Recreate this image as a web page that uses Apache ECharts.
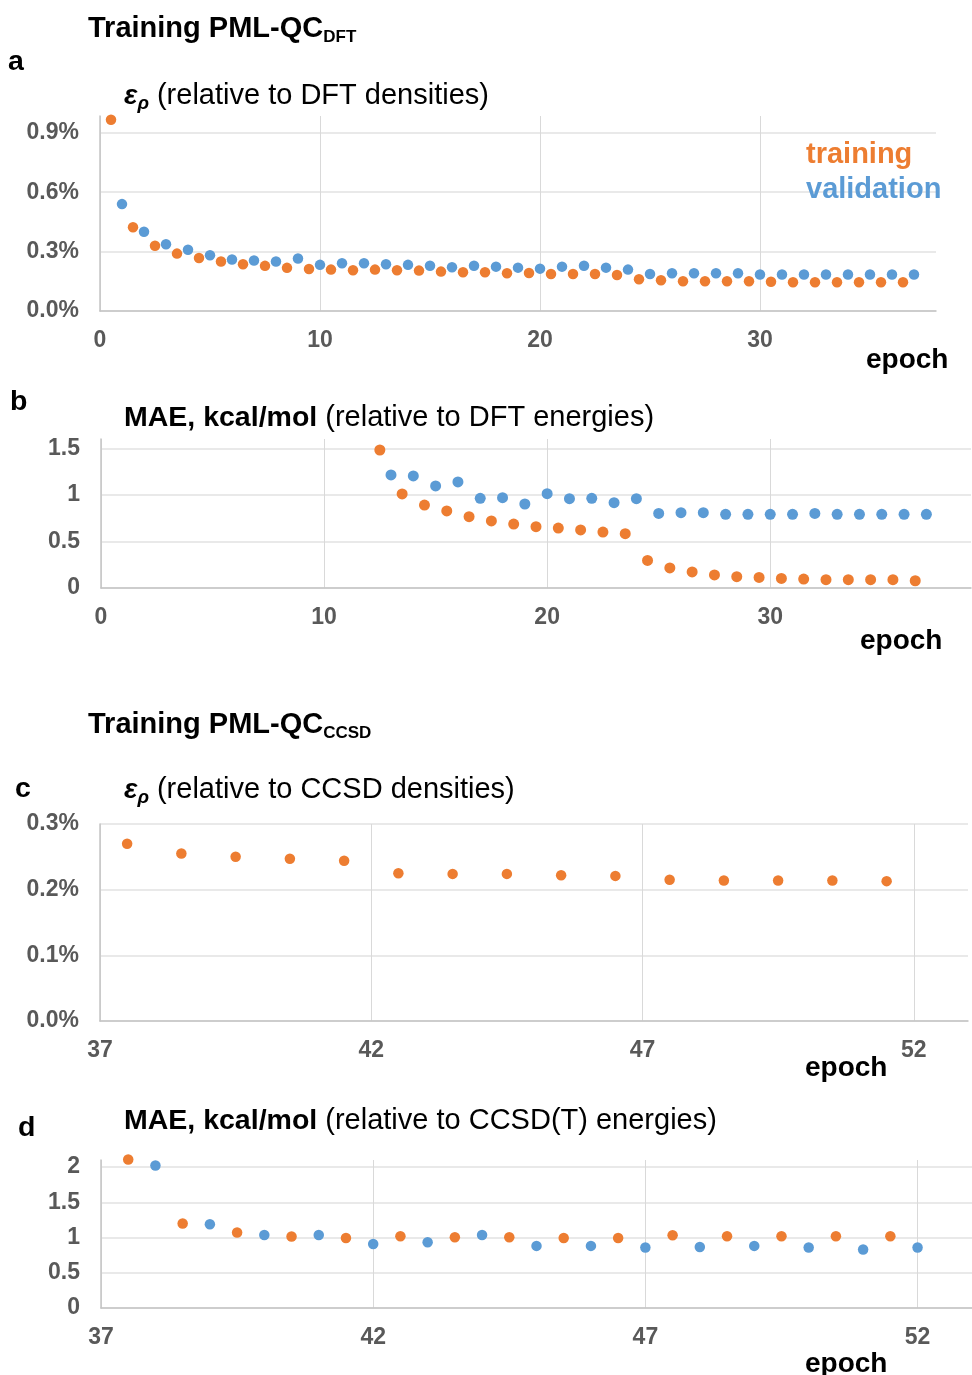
<!DOCTYPE html>
<meta charset="utf-8">
<style>
html, body { margin: 0; padding: 0; background: #fff; }
#main { width: 972px; height: 1375px; }
</style>
<div id="main"></div>
<script src="https://cdn.jsdelivr.net/npm/echarts/dist/echarts.min.js"></script>
<script>

// panel a: error in density vs DFT, percent
var aTrainEpoch = [0.5, 1.5, 2.5, 3.5, 4.5, 5.5, 6.5, 7.5, 8.5, 9.5, 10.5, 11.5, 12.5, 13.5, 14.5, 15.5, 16.5, 17.5, 18.5,
    19.5, 20.5, 21.5, 22.5, 23.5, 24.5, 25.5, 26.5, 27.5, 28.5, 29.5, 30.5, 31.5, 32.5, 33.5, 34.5, 35.5, 36.5];
var aTrain = [0.966, 0.423, 0.330, 0.290, 0.268, 0.250, 0.236, 0.228, 0.218, 0.212, 0.209, 0.206, 0.209, 0.206, 0.204, 0.199,
    0.196, 0.196, 0.191, 0.192, 0.187, 0.187, 0.187, 0.182, 0.160, 0.155, 0.150, 0.150, 0.150, 0.150, 0.148, 0.145,
    0.145, 0.145, 0.145, 0.145, 0.145];
var aValidEpoch = [1, 2, 3, 4, 5, 6, 7, 8, 9, 10, 11, 12, 13, 14, 15, 16, 17, 18, 19, 20, 21, 22, 23, 24, 25, 26, 27, 28,
    29, 30, 31, 32, 33, 34, 35, 36, 37];
var aValid = [0.540, 0.400, 0.337, 0.309, 0.282, 0.260, 0.255, 0.250, 0.265, 0.233, 0.241, 0.241, 0.236, 0.233, 0.229,
    0.221, 0.229, 0.224, 0.219, 0.214, 0.224, 0.229, 0.219, 0.209, 0.187, 0.191, 0.191, 0.191, 0.191, 0.184, 0.184,
    0.184, 0.184, 0.184, 0.184, 0.184, 0.184];

// panel b: MAE vs DFT energies, kcal/mol
var bTrainEpoch = [12.5, 13.5, 14.5, 15.5, 16.5, 17.5, 18.5, 19.5, 20.5, 21.5, 22.5, 23.5, 24.5, 25.5, 26.5, 27.5, 28.5,
    29.5, 30.5, 31.5, 32.5, 33.5, 34.5, 35.5, 36.5];
var bTrain = [1.482, 1.010, 0.891, 0.827, 0.766, 0.720, 0.687, 0.658, 0.644, 0.623, 0.601, 0.583, 0.296, 0.215, 0.172,
    0.140, 0.121, 0.114, 0.103, 0.096, 0.089, 0.089, 0.089, 0.089, 0.078];
var bValidEpoch = [13, 14, 15, 16, 17, 18, 19, 20, 21, 22, 23, 24, 25, 26, 27, 28, 29, 30, 31, 32, 33, 34, 35, 36, 37];
var bValid = [1.214, 1.203, 1.096, 1.139, 0.963, 0.970, 0.902, 1.013, 0.959, 0.963, 0.916, 0.959, 0.801, 0.809, 0.809,
    0.791, 0.791, 0.791, 0.791, 0.801, 0.791, 0.791, 0.791, 0.791, 0.791];

// panel c: error in density vs CCSD, percent
var cTrainEpoch = [37.5, 38.5, 39.5, 40.5, 41.5, 42.5, 43.5, 44.5, 45.5, 46.5, 47.5, 48.5, 49.5, 50.5, 51.5];
var cTrain = [0.270, 0.255, 0.250, 0.247, 0.244, 0.225, 0.224, 0.224, 0.222, 0.221, 0.215, 0.214, 0.214, 0.214, 0.213];

// panel d: MAE vs CCSD(T) energies, kcal/mol
var dTrainEpoch = [37.5, 38.5, 39.5, 40.5, 41.5, 42.5, 43.5, 44.5, 45.5, 46.5, 47.5, 48.5, 49.5, 50.5, 51.5];
var dTrain = [2.108, 1.199, 1.071, 1.014, 0.994, 1.018, 1.004, 1.004, 0.994, 0.994, 1.033, 1.018, 1.018, 1.018, 1.018];
var dValidEpoch = [38, 39, 40, 41, 42, 43, 44, 45, 46, 47, 48, 49, 50, 51, 52];
var dValid = [2.022, 1.189, 1.037, 1.037, 0.909, 0.933, 1.037, 0.881, 0.881, 0.858, 0.866, 0.881, 0.858, 0.829, 0.858];

var ORANGE = '#ED7D31';
var BLUE = '#5B9BD5';
var FONT = "'Liberation Sans', Arial, sans-serif";

function zip(xs, ys) {
    return xs.map(function (x, i) { return [x, ys[i]]; });
}

function pct(v) {
    return v.toFixed(1) + '%';
}

function xAxisFor(grid, min, max, interval) {
    return {
        type: 'value', gridIndex: grid, min: min, max: max, interval: interval,
        axisLine: { show: true, lineStyle: { color: '#c4c4c4', width: 1.5 } },
        axisTick: { show: false },
        axisLabel: { color: '#595959', fontSize: 23, fontWeight: 'bold', fontFamily: FONT, margin: 18, showMaxLabel: false },
        splitLine: { show: true, showMaxLine: false, lineStyle: { color: '#d9d9d9', width: 1 } }
    };
}

function yAxisFor(grid, max, interval, fmt, showMax) {
    return {
        type: 'value', gridIndex: grid, min: 0, max: max, interval: interval,
        axisLine: { show: true, lineStyle: { color: '#c4c4c4', width: 1.5 } },
        axisTick: { show: false },
        axisLabel: { color: '#595959', fontSize: 23, fontWeight: 'bold', fontFamily: FONT, margin: 21,
            showMaxLabel: showMax, formatter: fmt, padding: [4, 0, 0, 0] },
        splitLine: { show: true, showMaxLine: showMax, lineStyle: { color: '#e2e2e2', width: 1.5 } }
    };
}

function dots(name, grid, data, color, size) {
    return {
        name: name, type: 'scatter', xAxisIndex: grid, yAxisIndex: grid,
        data: data, symbol: 'circle', symbolSize: size, clip: false,
        itemStyle: { color: color, opacity: 1 }
    };
}

var richBase = {
    m: { fontSize: 29, fontWeight: 'bold', fontFamily: FONT, color: '#000', lineHeight: 34, verticalAlign: 'middle' },
    s: { fontSize: 17, fontWeight: 'bold', fontFamily: FONT, color: '#000', lineHeight: 16, verticalAlign: 'bottom' },
    e: { fontSize: 28, fontWeight: 'bold', fontStyle: 'italic', fontFamily: FONT, color: '#000', lineHeight: 34, verticalAlign: 'middle' },
    r: { fontSize: 19, fontWeight: 'bold', fontStyle: 'italic', fontFamily: FONT, color: '#000', lineHeight: 20, verticalAlign: 'bottom' },
    b: { fontSize: 28.5, fontWeight: 'bold', fontFamily: FONT, color: '#000', lineHeight: 34, verticalAlign: 'middle' },
    n: { fontSize: 29, fontWeight: 'normal', fontFamily: FONT, color: '#000', lineHeight: 34, verticalAlign: 'middle' },
    tr: { fontSize: 29, fontWeight: 'bold', fontFamily: FONT, color: ORANGE, lineHeight: 34 },
    va: { fontSize: 29, fontWeight: 'bold', fontFamily: FONT, color: BLUE, lineHeight: 34 },
    ep: { fontSize: 28, fontWeight: 'bold', fontFamily: FONT, color: '#000', lineHeight: 34 }
};

function label(text, left, top) {
    return { text: text, left: left, top: top, padding: 0, textStyle: { fontWeight: 'normal', rich: richBase } };
}

var chart = echarts.init(document.getElementById('main'), null, { renderer: 'canvas' });

chart.setOption({
    backgroundColor: '#fff',
    animation: false,
    title: [
        label('{m|Training PML-QC}{s|DFT}', 88, 12),
        label('{b|a}', 8, 45),
        label('{e|ε}{r|ρ}{n| (relative to DFT densities)}', 124, 79),
        label('{tr|training}', 806, 138),
        label('{va|validation}', 806, 173),
        label('{ep|epoch}', 866, 343),
        label('{b|b}', 10, 385),
        label('{b|MAE, kcal/mol}{n| (relative to DFT energies)}', 124, 401),
        label('{ep|epoch}', 860, 624),
        label('{m|Training PML-QC}{s|CCSD}', 88, 708),
        label('{b|c}', 15, 772),
        label('{e|ε}{r|ρ}{n| (relative to CCSD densities)}', 124, 773),
        label('{ep|epoch}', 805, 1051),
        label('{b|d}', 18, 1111),
        label('{b|MAE, kcal/mol}{n| (relative to CCSD(T) energies)}', 124, 1104),
        label('{ep|epoch}', 805, 1347)
    ],
    grid: [
        { left: 100, top: 116, width: 836, height: 195 },
        { left: 101, top: 439, width: 870, height: 149 },
        { left: 100, top: 824, width: 868, height: 197 },
        { left: 101, top: 1160, width: 873, height: 148 }
    ],
    xAxis: [
        xAxisFor(0, 0, 38, 10),
        xAxisFor(1, 0, 39, 10),
        xAxisFor(2, 37, 53, 5),
        xAxisFor(3, 37, 53, 5)
    ],
    yAxis: [
        yAxisFor(0, 0.985, 0.3, pct, false),
        yAxisFor(1, 1.6, 0.5, null, false),
        yAxisFor(2, 0.3, 0.1, pct, true),
        yAxisFor(3, 2.1, 0.5, null, false)
    ],
    series: [
        dots('training', 0, zip(aTrainEpoch, aTrain), ORANGE, 10.5),
        dots('validation', 0, zip(aValidEpoch, aValid), BLUE, 10.5),
        dots('training', 1, zip(bTrainEpoch, bTrain), ORANGE, 11),
        dots('validation', 1, zip(bValidEpoch, bValid), BLUE, 11),
        dots('training', 2, zip(cTrainEpoch, cTrain), ORANGE, 10.5),
        dots('training', 3, zip(dTrainEpoch, dTrain), ORANGE, 10.5),
        dots('validation', 3, zip(dValidEpoch, dValid), BLUE, 10.5)
    ]
});

</script>
